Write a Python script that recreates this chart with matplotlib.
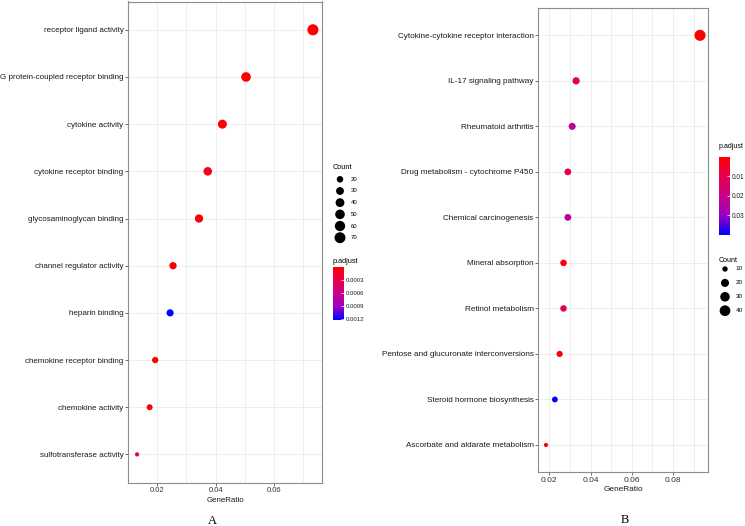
import matplotlib
matplotlib.use('Agg')
import matplotlib.pyplot as plt
import numpy as np
from matplotlib import font_manager
from matplotlib.colors import LinearSegmentedColormap, Normalize
from matplotlib.cm import ScalarMappable

# GO enrichment (panel A)
go_terms = ['receptor ligand activity', 'G protein-coupled receptor binding',
            'cytokine activity', 'cytokine receptor binding',
            'glycosaminoglycan binding', 'channel regulator activity',
            'heparin binding', 'chemokine receptor binding',
            'chemokine activity', 'sulfotransferase activity']
go_ratio = [0.0733, 0.0504, 0.0423, 0.0373, 0.0343, 0.0254, 0.0244, 0.0193, 0.0174, 0.0131]
go_count = [73, 50, 42, 37, 34, 25, 24, 19, 17, 13]
go_padj = [1e-7, 2e-6, 1e-6, 1.2e-4, 2e-5, 3e-6, 1.23e-3, 1e-6, 5e-7, 3.7e-4]
go_count_breaks = [20, 30, 40, 50, 60, 70]
go_padj_ticks = [0.0003, 0.0006, 0.0009, 0.0012]

# KEGG enrichment (panel B)
kegg_terms = ['Cytokine-cytokine receptor interaction', 'IL-17 signaling pathway',
              'Rheumatoid arthritis', 'Drug metabolism - cytochrome P450',
              'Chemical carcinogenesis', 'Mineral absorption', 'Retinol metabolism',
              'Pentose and glucuronate interconversions',
              'Steroid hormone biosynthesis', 'Ascorbate and aldarate metabolism']
kegg_ratio = [0.0931, 0.0330, 0.0311, 0.0290, 0.0290, 0.0269, 0.0269, 0.0250, 0.0227, 0.0184]
kegg_count = [44, 16, 15, 14, 14, 13, 13, 12, 11, 9]
kegg_padj = [1e-9, 0.012, 0.022, 0.009, 0.023, 0.002, 0.011, 0.002, 0.040, 0.002]
kegg_count_breaks = [10, 20, 30, 40]
kegg_padj_ticks = [0.01, 0.02, 0.03]

W, H = 745, 526
# red -> blue gradient (Lab-like interpolation like ggplot)
cmap = LinearSegmentedColormap.from_list(
    'rb', ['#FF0000', '#E5004D', '#CA0089', '#9A00C3', '#0000FF'])

SANS = ['Liberation Sans', 'DejaVu Sans']
SERIF = ['Liberation Serif', 'DejaVu Serif']

# panel B uses a narrow sans; use it if installed, otherwise shrink regular sans
_names = {f.name for f in font_manager.fontManager.ttflist}
if 'Liberation Sans Narrow' in _names:
    NARROW, NK = ['Liberation Sans Narrow', 'DejaVu Sans'], 1.0
else:
    NARROW, NK = SANS, 0.86


def px_box(l, t, r, b):
    return [l / W, 1 - b / H, (r - l) / W, (b - t) / H]


def dot_size(c, cmin, cmax):
    # ggplot scale_size(range=c(3, 8)) on area
    frac = (np.asarray(c, float) - cmin) / (cmax - cmin)
    return (3 + 5 * np.sqrt(np.clip(frac, 0, 1))) ** 2


def dotplot(ax, terms, ratio, count, padj, fam, lab_fs, tick_fs, xticks):
    n = len(terms)
    ypos = np.arange(n)[::-1]
    norm = Normalize(min(padj), max(padj))
    ax.set_axisbelow(True)
    ax.scatter(ratio, ypos, s=dot_size(count, min(count), max(count)),
               c=padj, cmap=cmap, norm=norm, edgecolors='none', zorder=3)
    span = max(ratio) - min(ratio)
    ax.set_ylim(-0.6, n - 0.4)
    ax.set_yticks(ypos)
    ax.set_yticklabels(terms, family=fam, fontsize=lab_fs, color='#1a1a1a')
    ax.set_xticks(xticks)
    ax.set_xticklabels(['{:.2f}'.format(v) for v in xticks], family=fam,
                       fontsize=tick_fs, color='#333333')
    ax.set_xticks(np.array(xticks) + 0.01, minor=True)
    ax.set_xlim(min(ratio) - 0.05 * span, max(ratio) + 0.05 * span)
    ax.grid(which='both', color='#EBEBEB', linewidth=0.6)
    ax.tick_params(which='major', length=2.2, width=0.6, color='#555555', pad=1.2)
    ax.tick_params(which='minor', length=0)
    for sp in ax.spines.values():
        sp.set_color('#8C8C8C')
        sp.set_linewidth(0.8)
    return norm


def colorbar(fig, box, norm, ticks, fmt, fam, fs):
    cax = fig.add_axes(px_box(*box))
    cb = fig.colorbar(ScalarMappable(norm=norm, cmap=cmap), cax=cax, ticks=ticks)
    cb.outline.set_visible(False)
    cax.invert_yaxis()
    cax.tick_params(direction='in', length=2, width=0.5, color='white', pad=1.5,
                    labelsize=fs)
    cax.set_yticklabels([fmt.format(t) for t in ticks], family=fam, color='#1a1a1a')


fig = plt.figure(figsize=(W / 100, H / 100), dpi=100)

# panel A
axA = fig.add_axes(px_box(128.3, 1.5, 321.7, 482.7))
normA = dotplot(axA, go_terms, go_ratio, go_count, go_padj, SANS, 5.8, 5.5,
                [0.02, 0.04, 0.06])
axA.set_xlabel('GeneRatio', family=SANS, fontsize=5.7, color='#1a1a1a', labelpad=1.5)

# panel B
axB = fig.add_axes(px_box(538.3, 8, 707.7, 472.3))
normB = dotplot(axB, kegg_terms, kegg_ratio, kegg_count, kegg_padj, NARROW,
                6.8 * NK, 7 * NK, [0.02, 0.04, 0.06, 0.08])
axB.set_xlabel('GeneRatio', family=NARROW, fontsize=6.9 * NK, color='#1a1a1a',
               labelpad=1.5)

# legends drawn on a full-figure overlay in pixel units
leg = fig.add_axes([0, 0, 1, 1], zorder=-1)
leg.set_xlim(0, W)
leg.set_ylim(H, 0)
leg.axis('off')

# panel A legends
leg.text(332.7, 167.7, 'Count', family=SANS, fontsize=5.3, va='center')
ya = np.linspace(179.3, 237.7, len(go_count_breaks))
leg.scatter(np.full(len(ya), 340), ya,
            s=dot_size(go_count_breaks, min(go_count), max(go_count)),
            color='black', edgecolors='none')
for y, b in zip(ya, go_count_breaks):
    leg.text(351, y, str(b), family=SANS, fontsize=4.3, va='center')
leg.text(332.7, 261.7, 'p.adjust', family=SANS, fontsize=5.3, va='center')
colorbar(fig, (332.7, 267.3, 344, 320), normA, go_padj_ticks, '{:.4f}', SANS, 4.3)

# panel B legends
leg.text(719, 147, 'p.adjust', family=NARROW, fontsize=6 * NK, va='center')
colorbar(fig, (719, 156.7, 730, 235), normB, kegg_padj_ticks, '{:.2f}', NARROW,
         5.5 * NK)
leg.text(719, 260, 'Count', family=NARROW, fontsize=6 * NK, va='center')
yb = np.linspace(269, 310.7, len(kegg_count_breaks))
leg.scatter(np.full(len(yb), 725), yb,
            s=dot_size(kegg_count_breaks, min(kegg_count), max(kegg_count)),
            color='black', edgecolors='none')
for y, b in zip(yb, kegg_count_breaks):
    leg.text(735.5, y, str(b), family=NARROW, fontsize=5.3 * NK, va='center')

# panel letters
fig.text(212.7 / W, 1 - 521 / H, 'A', family=SERIF, fontsize=9, ha='center',
         va='center')
fig.text(624.3 / W, 1 - 520 / H, 'B', family=SERIF, fontsize=9, ha='center',
         va='center')

fig.savefig('out.png', dpi=100)
